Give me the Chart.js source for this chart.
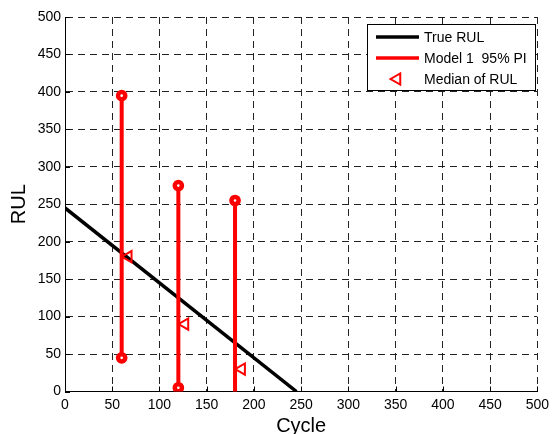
<!DOCTYPE html>
<html><head><meta charset="utf-8">
<style>html,body{margin:0;padding:0;background:#fff;}#wrap{width:554px;height:434px;position:relative;}</style>
<script src="https://cdn.jsdelivr.net/npm/chart.js@4/dist/chart.umd.min.js"></script>
</head><body><div id="wrap"><canvas id="c"></canvas></div>
<script>
// ---- data ----
const trueCycles = [0, 245];
const trueRUL = [245, 0];
const piCycles = [60, 120, 180];
const piLower = [45, 5, -10];
const piUpper = [395, 275, 255];
const medianCycles = [67, 127, 187];
const medianRUL = [180, 90, 30];
const xTickValues = [0, 50, 100, 150, 200, 250, 300, 350, 400, 450, 500];
const yTickValues = [0, 50, 100, 150, 200, 250, 300, 350, 400, 450, 500];
const seriesLabels = ['True RUL', 'Model 1  95% PI', 'Median of RUL'];
const axisTitles = {x: 'Cycle', y: 'RUL'};

const FONT = '"Liberation Sans", Arial, sans-serif';
const RED = '#ff0000';

const truePoints = trueCycles.map((c, i) => ({x: c, y: trueRUL[i]}));
const piPoints = [];
piCycles.forEach((c, i) => {
  piPoints.push({x: c, y: piUpper[i]});
  piPoints.push({x: c, y: piLower[i]});
  if (i < piCycles.length - 1) piPoints.push({x: c, y: null});
});
const medianPoints = medianCycles.map((c, i) => ({x: c, y: medianRUL[i]}));

const deco = {
  id: 'deco',
  beforeDatasetsDraw(chart) {
    const {ctx, chartArea: a, scales: {x, y}} = chart;
    ctx.save();
    ctx.strokeStyle = '#000';
    ctx.lineWidth = 1;
    xTickValues.forEach(v => {
      const px = Math.round(x.getPixelForValue(v)) + 0.5;
      ctx.beginPath(); ctx.moveTo(px, a.bottom); ctx.lineTo(px, a.bottom - 5); ctx.stroke();
    });
    yTickValues.forEach(v => {
      const py = Math.round(y.getPixelForValue(v)) + 0.5;
      ctx.beginPath(); ctx.moveTo(a.left, py); ctx.lineTo(a.left + 5, py); ctx.stroke();
    });
    ctx.restore();
  },
  afterDraw(chart) {
    const {ctx, chartArea: a} = chart;
    ctx.save();
    // axis titles
    ctx.fillStyle = '#000';
    ctx.font = '20px ' + FONT;
    ctx.textAlign = 'center';
    ctx.textBaseline = 'alphabetic';
    ctx.fillText(axisTitles.x, (a.left + a.right) / 2, 432);
    ctx.save();
    ctx.translate(25, (a.top + a.bottom) / 2);
    ctx.rotate(-Math.PI / 2);
    ctx.fillText(axisTitles.y, 0, 0);
    ctx.restore();
    // legend
    const bx = 367.5, by = 24.5, bw = 168, bh = 66;
    ctx.fillStyle = '#fff';
    ctx.fillRect(bx, by, bw, bh);
    ctx.strokeStyle = '#000';
    ctx.lineWidth = 1;
    ctx.strokeRect(bx, by, bw, bh);
    const rows = [37, 58, 79];
    ctx.lineWidth = 3.5;
    ctx.strokeStyle = '#000';
    ctx.beginPath(); ctx.moveTo(376, rows[0]); ctx.lineTo(419, rows[0]); ctx.stroke();
    ctx.strokeStyle = RED;
    ctx.beginPath(); ctx.moveTo(376, rows[1]); ctx.lineTo(419, rows[1]); ctx.stroke();
    // triangle pointing left
    const tx = 397, ty = rows[2], r = 6.5;
    ctx.lineWidth = 2;
    ctx.beginPath();
    ctx.moveTo(tx - r, ty);
    ctx.lineTo(tx + r * 0.5, ty - r * 0.866);
    ctx.lineTo(tx + r * 0.5, ty + r * 0.866);
    ctx.closePath();
    ctx.stroke();
    ctx.fillStyle = '#000';
    ctx.font = '14px ' + FONT;
    ctx.textAlign = 'left';
    ctx.textBaseline = 'middle';
    seriesLabels.forEach((t, i) => ctx.fillText(t, 424, rows[i] + 1));
    ctx.restore();
  }
};

new Chart(document.getElementById('c'), {
  type: 'scatter',
  data: {
    datasets: [
      {label: seriesLabels[0], data: truePoints, showLine: true, borderColor: '#000', borderWidth: 3.5,
       pointRadius: 0, order: 3, clip: 0},
      {label: seriesLabels[1], data: piPoints, showLine: true, spanGaps: false, borderColor: RED, borderWidth: 4,
       pointRadius: 3.6, pointBorderWidth: 4.5, pointBackgroundColor: '#fff', pointBorderColor: RED, order: 2, clip: 0},
      {label: seriesLabels[2], data: medianPoints, showLine: false, pointStyle: 'triangle', rotation: -90,
       pointRadius: 6.5, pointBorderWidth: 2, pointBorderColor: RED, pointBackgroundColor: 'rgba(0,0,0,0)', order: 1, clip: 0}
    ]
  },
  options: {
    responsive: true,
    maintainAspectRatio: false,
    animation: false,
    events: [],
    layout: {padding: {top: 17, right: 13, left: 0, bottom: 0}},
    plugins: {legend: {display: false}, tooltip: {enabled: false}, title: {display: false}},
    scales: {
      x: {
        type: 'linear', min: 0, max: 500,
        afterBuildTicks: s => { s.ticks = xTickValues.map(v => ({value: v})); },
        afterFit: s => { s.height = 42.5; },
        ticks: {padding: 5, color: '#000', font: {family: FONT, size: 14}, maxRotation: 0, autoSkip: false},
        grid: {color: '#222', lineWidth: 1, drawTicks: false},
        border: {display: true, color: '#000', width: 1, dash: [7, 5]}
      },
      y: {
        type: 'linear', min: 0, max: 500,
        afterBuildTicks: s => { s.ticks = yTickValues.map(v => ({value: v})); },
        afterFit: s => { s.width = 65; },
        ticks: {padding: 4, color: '#000', font: {family: FONT, size: 14}, autoSkip: false},
        grid: {color: '#222', lineWidth: 1, drawTicks: false},
        border: {display: true, color: '#000', width: 1, dash: [7, 5]}
      }
    }
  },
  plugins: [deco]
});
</script>
</body></html>
